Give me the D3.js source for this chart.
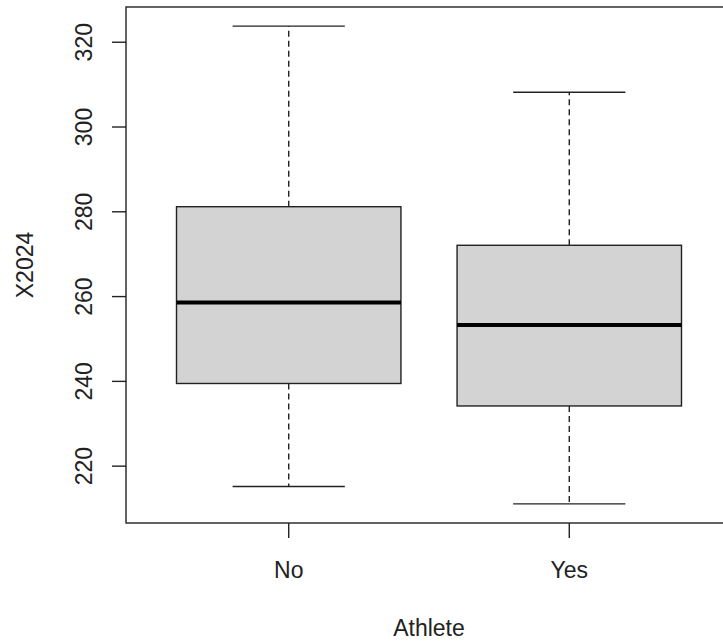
<!DOCTYPE html>
<html lang="en">
<head>
    <meta charset="UTF-8">
    <title>X2024 by Athlete</title>
    <script src="https://cdn.jsdelivr.net/npm/d3@7"></script>
    <style>
        body { margin: 0; background: #fff; }
        svg text { font-family: 'Liberation Sans', Arial, sans-serif; fill: #222; }
    </style>
</head>
<body>
    <div id="chart"></div>
    <script>
        // groups and five-number summaries
        const groups = ['No', 'Yes'];
        const whiskerLow = [215.2, 211.1];
        const quartile1 = [239.5, 234.2];
        const medians = [258.6, 253.3];
        const quartile3 = [281.2, 272.1];
        const whiskerHigh = [323.8, 308.2];
        const yTicks = [220, 240, 260, 280, 300, 320];

        const width = 723, height = 641;
        const plot = { left: 126, right: 732, top: 7, bottom: 523 };
        const stroke = '#222';

        const svg = d3.select('#chart').append('svg')
            .attr('width', width)
            .attr('height', height);

        // R style: pad the range by 4% on both sides
        const lo = d3.min(whiskerLow), hi = d3.max(whiskerHigh);
        const pad = (hi - lo) * 0.04;
        const y = d3.scaleLinear()
            .domain([lo - pad, hi + pad])
            .range([plot.bottom, plot.top]);

        const x = d3.scaleLinear()
            .domain([0.5 - 0.08, groups.length + 0.5 + 0.08])
            .range([plot.left, plot.right]);

        const boxHalf = 0.4, capHalf = 0.2;

        const boxes = groups.map((g, i) => ({
            name: g, pos: i + 1,
            lo: whiskerLow[i], q1: quartile1[i], med: medians[i],
            q3: quartile3[i], hi: whiskerHigh[i]
        }));

        const box = svg.selectAll('.box')
            .data(boxes)
            .enter()
            .append('g')
            .attr('class', 'box');

        // whiskers (dashed)
        box.append('line')
            .attr('x1', d => x(d.pos)).attr('x2', d => x(d.pos))
            .attr('y1', d => y(d.q3)).attr('y2', d => y(d.hi))
            .attr('stroke', stroke).attr('stroke-width', 1.4)
            .attr('stroke-dasharray', '6,4');
        box.append('line')
            .attr('x1', d => x(d.pos)).attr('x2', d => x(d.pos))
            .attr('y1', d => y(d.q1)).attr('y2', d => y(d.lo))
            .attr('stroke', stroke).attr('stroke-width', 1.4)
            .attr('stroke-dasharray', '6,4');

        // staples
        box.selectAll('.cap')
            .data(d => [d.lo, d.hi].map(v => ({ pos: d.pos, v })))
            .enter()
            .append('line')
            .attr('x1', d => x(d.pos - capHalf)).attr('x2', d => x(d.pos + capHalf))
            .attr('y1', d => y(d.v)).attr('y2', d => y(d.v))
            .attr('stroke', stroke).attr('stroke-width', 1.4);

        box.append('rect')
            .attr('x', d => x(d.pos - boxHalf))
            .attr('width', d => x(d.pos + boxHalf) - x(d.pos - boxHalf))
            .attr('y', d => y(d.q3))
            .attr('height', d => y(d.q1) - y(d.q3))
            .attr('fill', '#d3d3d3')
            .attr('stroke', stroke).attr('stroke-width', 1.4);

        box.append('line')
            .attr('x1', d => x(d.pos - boxHalf)).attr('x2', d => x(d.pos + boxHalf))
            .attr('y1', d => y(d.med)).attr('y2', d => y(d.med))
            .attr('stroke', '#000').attr('stroke-width', 4);

        // frame
        svg.append('rect')
            .attr('x', plot.left).attr('y', plot.top)
            .attr('width', plot.right - plot.left)
            .attr('height', plot.bottom - plot.top)
            .attr('fill', 'none')
            .attr('stroke', stroke).attr('stroke-width', 1.4);

        // y axis
        const yAxis = svg.append('g');
        yAxis.selectAll('line')
            .data(yTicks)
            .enter()
            .append('line')
            .attr('x1', plot.left - 14).attr('x2', plot.left)
            .attr('y1', d => y(d)).attr('y2', d => y(d))
            .attr('stroke', stroke).attr('stroke-width', 1.4);
        yAxis.selectAll('text')
            .data(yTicks)
            .enter()
            .append('text')
            .attr('transform', d => `translate(92, ${y(d)}) rotate(-90)`)
            .attr('text-anchor', 'middle')
            .attr('font-size', 23)
            .text(d => d);

        // x axis
        const xAxis = svg.append('g');
        xAxis.selectAll('line')
            .data(boxes)
            .enter()
            .append('line')
            .attr('x1', d => x(d.pos)).attr('x2', d => x(d.pos))
            .attr('y1', plot.bottom).attr('y2', plot.bottom + 15)
            .attr('stroke', stroke).attr('stroke-width', 1.4);
        xAxis.selectAll('text')
            .data(boxes)
            .enter()
            .append('text')
            .attr('x', d => x(d.pos))
            .attr('y', 578)
            .attr('text-anchor', 'middle')
            .attr('font-size', 23)
            .text(d => d.name);

        // axis titles
        svg.append('text')
            .attr('x', (plot.left + plot.right) / 2)
            .attr('y', 636)
            .attr('text-anchor', 'middle')
            .attr('font-size', 23)
            .text('Athlete');

        svg.append('text')
            .attr('transform', `translate(33, ${(plot.top + plot.bottom) / 2}) rotate(-90)`)
            .attr('text-anchor', 'middle')
            .attr('font-size', 23)
            .text('X2024');
    </script>
</body>
</html>
